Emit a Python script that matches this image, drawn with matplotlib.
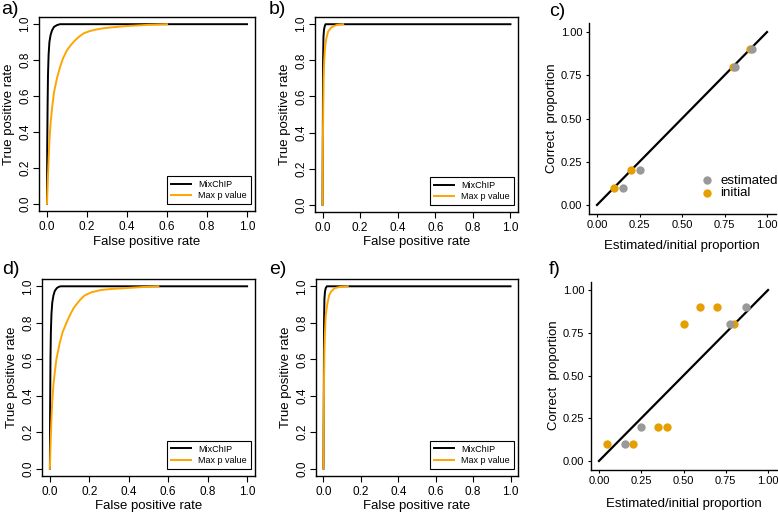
import numpy as np
import matplotlib.pyplot as plt

plt.rcParams['font.family'] = ['Liberation Sans', 'DejaVu Sans']

# ROC curves (false positive rate, true positive rate)
a_mix_fpr = [0, 0.001, 0.003, 0.005, 0.008, 0.012, 0.018, 0.025, 0.035, 0.05, 0.065, 1.0]
a_mix_tpr = [0, 0.3, 0.55, 0.72, 0.83, 0.9, 0.94, 0.965, 0.985, 0.995, 1.0, 1.0]
a_max_fpr = [0, 0.003, 0.007, 0.012, 0.018, 0.025, 0.035, 0.05, 0.065, 0.08, 0.1, 0.12, 0.14, 0.16, 0.185, 0.215, 0.244, 0.28, 0.32, 0.4, 0.5, 0.6]
a_max_tpr = [0, 0.1, 0.22, 0.35, 0.45, 0.53, 0.62, 0.7, 0.76, 0.81, 0.855, 0.885, 0.91, 0.93, 0.95, 0.962, 0.97, 0.977, 0.982, 0.99, 0.996, 1.0]

b_mix_fpr = [0, 0.002, 0.003, 0.005, 0.008, 0.012, 0.016, 1.0]
b_mix_tpr = [0, 0.5, 0.8, 0.93, 0.97, 0.99, 1.0, 1.0]
b_max_fpr = [0, 0.002, 0.004, 0.006, 0.009, 0.013, 0.02, 0.03, 0.045, 0.06, 0.08, 0.11]
b_max_tpr = [0, 0.35, 0.55, 0.7, 0.8, 0.87, 0.92, 0.96, 0.98, 0.99, 0.997, 1.0]

d_mix_fpr = [0, 0.001, 0.003, 0.005, 0.008, 0.012, 0.018, 0.025, 0.035, 0.045, 0.055, 1.0]
d_mix_tpr = [0, 0.3, 0.6, 0.75, 0.85, 0.91, 0.95, 0.975, 0.99, 0.997, 1.0, 1.0]
d_max_fpr = [0, 0.003, 0.007, 0.012, 0.018, 0.025, 0.033, 0.05, 0.065, 0.084, 0.105, 0.12, 0.134, 0.155, 0.176, 0.21, 0.26, 0.32, 0.38, 0.47, 0.55]
d_max_tpr = [0, 0.12, 0.25, 0.37, 0.46, 0.53, 0.6, 0.69, 0.75, 0.8, 0.85, 0.88, 0.9, 0.928, 0.95, 0.967, 0.98, 0.986, 0.99, 0.996, 1.0]

e_mix_fpr = [0, 0.002, 0.003, 0.005, 0.008, 0.012, 0.018, 1.0]
e_mix_tpr = [0, 0.5, 0.8, 0.93, 0.97, 0.99, 1.0, 1.0]
e_max_fpr = [0, 0.002, 0.003, 0.005, 0.008, 0.012, 0.02, 0.03, 0.04, 0.06, 0.09, 0.13]
e_max_tpr = [0, 0.3, 0.5, 0.65, 0.75, 0.84, 0.9, 0.95, 0.97, 0.99, 0.997, 1.0]

# proportion panels
c_est_x = [0.15, 0.25, 0.81, 0.91]
c_est_y = [0.10, 0.20, 0.80, 0.90]
c_init_x = [0.10, 0.20, 0.80, 0.90]
c_init_y = [0.10, 0.20, 0.80, 0.90]

f_est_x = [0.155, 0.25, 0.776, 0.872]
f_est_y = [0.10, 0.20, 0.80, 0.90]
f_init_x = [0.05, 0.20, 0.35, 0.40, 0.50, 0.60, 0.70, 0.80]
f_init_y = [0.10, 0.10, 0.20, 0.20, 0.80, 0.90, 0.90, 0.80]

roc_ticks = [0.0, 0.2, 0.4, 0.6, 0.8, 1.0]
prop_ticks = [0.0, 0.25, 0.5, 0.75, 1.0]
prop_labels = ['0.00', '0.25', '0.50', '0.75', '1.00']

W, H = 778, 512
fig = plt.figure(figsize=(W / 100, H / 100), dpi=100)


def px_axes(l, t, r, b):
    return fig.add_axes([l / W, 1 - b / H, (r - l) / W, (b - t) / H])


def roc_panel(box, mix_fpr, mix_tpr, max_fpr, max_tpr):
    ax = px_axes(*box)
    ax.plot(mix_fpr, mix_tpr, color='black', lw=1.4, label='MixChIP')
    ax.plot(max_fpr, max_tpr, color='#FFA500', lw=1.4, label='Max p value')
    ax.set_xlim(-0.04, 1.04)
    ax.set_ylim(-0.04, 1.04)
    ax.set_xticks(roc_ticks)
    ax.set_yticks(roc_ticks)
    ax.set_xticklabels(['%.1f' % t for t in roc_ticks], fontsize=8.5)
    ax.set_yticklabels(['%.1f' % t for t in roc_ticks], fontsize=8.5, rotation=90, va='center')
    ax.tick_params(axis='x', length=4, width=0.8, pad=3)
    ax.tick_params(axis='y', length=4, width=0.8, pad=1.5)
    for s in ax.spines.values():
        s.set_linewidth(1.0)
    ax.set_xlabel('False positive rate', fontsize=9.5, labelpad=2)
    ax.set_ylabel('True positive rate', fontsize=9.5, labelpad=3)
    leg = ax.legend(loc='lower right', bbox_to_anchor=(0.98, 0.036), borderaxespad=0,
                    fontsize=6.5, frameon=True, fancybox=False, edgecolor='black',
                    framealpha=1, handlelength=2.2, borderpad=0.45, labelspacing=0.25)
    leg.get_frame().set_linewidth(0.8)
    return ax


def prop_panel(box, est_x, est_y, init_x, init_y, legend, xpad):
    ax = px_axes(*box)
    ax.plot([0, 1], [0, 1], color='black', lw=1.6, zorder=2)
    ax.scatter(init_x, init_y, s=36, color='#E69F00', label='initial', zorder=3, linewidths=0)
    ax.scatter(est_x, est_y, s=36, color='#999999', label='estimated', zorder=3, linewidths=0)
    ax.set_xlim(-0.05, 1.05)
    ax.set_ylim(-0.05, 1.05)
    ax.set_xticks(prop_ticks)
    ax.set_yticks(prop_ticks)
    ax.set_xticklabels(prop_labels, fontsize=8)
    ax.set_yticklabels(prop_labels, fontsize=8)
    ax.tick_params(length=2.5, width=0.8, pad=2)
    ax.spines['top'].set_visible(False)
    ax.spines['right'].set_visible(False)
    for s in ('left', 'bottom'):
        ax.spines[s].set_linewidth(1.0)
    ax.set_xlabel('Estimated/initial proportion', fontsize=9.5, labelpad=xpad)
    ax.set_ylabel('Correct  proportion', fontsize=9.5, labelpad=2)
    if legend:
        h, l = ax.get_legend_handles_labels()
        ax.legend(h[::-1], l[::-1], loc='lower right', bbox_to_anchor=(1.02, 0.07),
                  borderaxespad=0, frameon=False, fontsize=9.5, handletextpad=0.0,
                  labelspacing=0.0, markerscale=1.0, borderpad=0.1)
    return ax


roc_panel((39, 17, 255, 211), a_mix_fpr, a_mix_tpr, a_max_fpr, a_max_tpr)
roc_panel((315, 17, 518, 212), b_mix_fpr, b_mix_tpr, b_max_fpr, b_max_tpr)
roc_panel((42, 279, 255, 476), d_mix_fpr, d_mix_tpr, d_max_fpr, d_max_tpr)
roc_panel((316, 279, 518, 476), e_mix_fpr, e_mix_tpr, e_max_fpr, e_max_tpr)
prop_panel((588.5, 23.4, 775.5, 213.6), c_est_x, c_est_y, c_init_x, c_init_y, True, 7)
prop_panel((590.5, 281.5, 776.5, 469.5), f_est_x, f_est_y, f_init_x, f_init_y, False, 9)

for lab, x, y in [('a)', 1, 10), ('b)', 269, 10), ('c)', 549, 12),
                  ('d)', 2, 269), ('e)', 269, 269), ('f)', 549, 269)]:
    fig.text(x / W, 1 - y / H, lab, fontsize=14, ha='left', va='center')

fig.savefig('out.png', dpi=100)
